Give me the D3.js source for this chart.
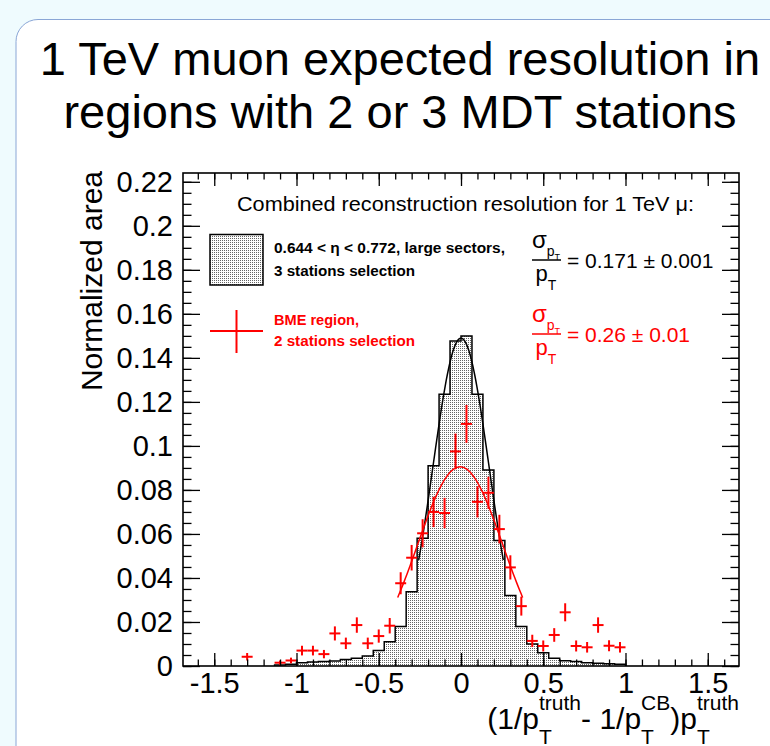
<!DOCTYPE html>
<html lang="en">
<head>
<meta charset="UTF-8">
<title>1 TeV muon expected resolution</title>
<script src="https://d3js.org/d3.v7.min.js"></script>
<style>
  body { margin: 0; background: #effbfe; }
  svg { display: block; }
  text { font-family: "Liberation Sans", Arial, Helvetica, sans-serif; }
</style>
</head>
<body>
<svg width="770" height="746"></svg>
<script>
// black histogram: 0.644 < eta < 0.772, large sectors, 3 stations (bin lower edges, bin width 1/15)
var binWidth = 0.0667;
var histLow = [-1.1333, -1.0667, -1.0, -0.9333, -0.8667, -0.8, -0.7333, -0.6667, -0.6, -0.5333,
               -0.4667, -0.4, -0.3333, -0.2667, -0.2, -0.1333, -0.0667, 0.0, 0.0667, 0.1333,
               0.2, 0.2667, 0.3333, 0.4, 0.4667, 0.5333, 0.6, 0.6667, 0.7333, 0.8, 0.8667, 0.9333];
var histValue = [0.0005, 0.0008, 0.0015, 0.0018, 0.002, 0.0023, 0.003, 0.0035, 0.0045, 0.007,
                 0.011, 0.018, 0.0337, 0.058, 0.091, 0.1235, 0.1477, 0.1499, 0.1235, 0.089,
                 0.057, 0.032, 0.018, 0.010, 0.006, 0.0035, 0.0024, 0.002, 0.0015, 0.0012, 0.001, 0.0008];

// red points: BME region, 2 stations selection
var bmeCenter = [-1.3, -1.1, -1.0333, -0.9667, -0.9, -0.8333, -0.7667, -0.7, -0.6333, -0.5667,
                 -0.5, -0.4333, -0.3667, -0.3, -0.2333, -0.1667, -0.1, -0.0333, 0.0333, 0.1,
                 0.1667, 0.2333, 0.3, 0.3667, 0.4333, 0.5, 0.5667, 0.6333, 0.7, 0.7667,
                 0.8333, 0.9, 0.9667];
var bmeValue = [0.0042, 0.0015, 0.0025, 0.007, 0.007, 0.0054, 0.0148, 0.0103, 0.0186, 0.0103,
                0.0136, 0.0183, 0.0376, 0.0492, 0.0603, 0.070, 0.0695, 0.0975, 0.110, 0.0746,
                0.0787, 0.0622, 0.0448, 0.0272, 0.0114, 0.0091, 0.0141, 0.0244, 0.0091, 0.0085,
                0.0186, 0.0092, 0.0085];
var bmeError = [0.0017, 0.001, 0.0013, 0.0022, 0.0022, 0.0019, 0.0032, 0.0026, 0.0035, 0.0026,
                0.003, 0.0035, 0.005, 0.0058, 0.0064, 0.0069, 0.0069, 0.0081, 0.0086, 0.0071,
                0.0073, 0.0065, 0.0055, 0.0043, 0.0028, 0.0025, 0.0031, 0.0041, 0.0025, 0.0024,
                0.0035, 0.0025, 0.0024];

// gaussian fits: [amplitude, mean, sigma, from, to]
var fitBlack = [0.149, 0.0, 0.171, -0.257, 0.257];
var fitRed = [0.0905, -0.005, 0.26, -0.385, 0.375];

var xTicks = [-1.5, -1, -0.5, 0, 0.5, 1, 1.5];
var xTickLabels = ["-1.5", "-1", "-0.5", "0", "0.5", "1", "1.5"];
var yTicks = [0, 0.02, 0.04, 0.06, 0.08, 0.1, 0.12, 0.14, 0.16, 0.18, 0.2, 0.22];
var yTickLabels = ["0", "0.02", "0.04", "0.06", "0.08", "0.1", "0.12", "0.14", "0.16", "0.18", "0.2", "0.22"];

var svg = d3.select("svg");
var frameL = 183, frameR = 739, frameT = 173, frameB = 666;

// slide box
svg.append("rect").attr("x", 16).attr("y", 19.5).attr("width", 820).attr("height", 820)
    .attr("rx", 22).attr("fill", "#ffffff").attr("stroke", "#8aa6d6").attr("stroke-width", 1);

svg.append("text").attr("x", 400).attr("y", 75).attr("text-anchor", "middle")
    .attr("font-size", 47).text("1 TeV muon expected resolution in");
svg.append("text").attr("x", 400).attr("y", 128).attr("text-anchor", "middle")
    .attr("font-size", 47).text("regions with 2 or 3 MDT stations");

var x = d3.scaleLinear().domain([-1.69, 1.69]).range([frameL, frameR]);
var y = d3.scaleLinear().domain([0, 0.224]).range([frameB, frameT]);

// dotted fill pattern
var pat = svg.append("defs").append("pattern").attr("id", "dots")
    .attr("width", 2).attr("height", 2).attr("patternUnits", "userSpaceOnUse");
pat.append("rect").attr("width", 2).attr("height", 2).attr("fill", "#fff");
pat.append("rect").attr("width", 1).attr("height", 1).attr("fill", "#666");

// histogram
var histPts = [[histLow[0], 0]];
histLow.forEach(function (lo, i) {
    histPts.push([lo, histValue[i]]);
    histPts.push([lo + binWidth, histValue[i]]);
});
histPts.push([histLow[histLow.length - 1] + binWidth, 0]);
var line = d3.line().x(function (d) { return x(d[0]); }).y(function (d) { return y(d[1]); });
svg.append("path").attr("d", line(histPts)).attr("fill", "url(#dots)")
    .attr("stroke", "#000").attr("stroke-width", 1.5);

function fitPoints(p) {
    return d3.range(p[3], p[4] + 0.0001, (p[4] - p[3]) / 80).map(function (v) {
        return [v, p[0] * Math.exp(-Math.pow(v - p[1], 2) / (2 * p[2] * p[2]))];
    });
}
var smooth = d3.line().curve(d3.curveBasis)
    .x(function (d) { return x(d[0]); }).y(function (d) { return y(d[1]); });
svg.append("path").attr("d", smooth(fitPoints(fitBlack))).attr("fill", "none")
    .attr("stroke", "#000").attr("stroke-width", 1.5);

// red points with error bars
var pts = svg.append("g").attr("stroke", "#ff0000").attr("stroke-width", 2);
bmeCenter.forEach(function (c, i) {
    pts.append("line").attr("x1", x(c - binWidth / 2)).attr("x2", x(c + binWidth / 2))
        .attr("y1", y(bmeValue[i])).attr("y2", y(bmeValue[i]));
    pts.append("line").attr("x1", x(c)).attr("x2", x(c))
        .attr("y1", y(bmeValue[i] - bmeError[i])).attr("y2", y(bmeValue[i] + bmeError[i]));
});
svg.append("path").attr("d", smooth(fitPoints(fitRed))).attr("fill", "none")
    .attr("stroke", "#ff0000").attr("stroke-width", 1.5);

// axes: ticks point inward on all four sides
var xMinor = d3.range(-16, 17).map(function (k) { return k / 10; });
var yMinor = d3.range(0, 45).map(function (k) { return k * 0.005; });

function styleAxis(g) {
    g.select(".domain").remove();
    g.selectAll("line").attr("stroke", "#000").attr("stroke-width", 1.3);
    return g;
}
svg.append("g").attr("transform", "translate(0," + frameB + ")")
    .call(d3.axisBottom(x).tickValues(xMinor).tickSize(-6.5).tickFormat(""))
    .call(styleAxis);
svg.append("g").attr("transform", "translate(0," + frameT + ")")
    .call(d3.axisTop(x).tickValues(xMinor).tickSize(-6.5).tickFormat(""))
    .call(styleAxis);
svg.append("g").attr("transform", "translate(0," + frameT + ")")
    .call(d3.axisTop(x).tickValues(xTicks).tickSize(-13).tickFormat(""))
    .call(styleAxis);
var xAxis = svg.append("g").attr("transform", "translate(0," + frameB + ")")
    .call(d3.axisBottom(x).tickValues(xTicks).tickSizeInner(-13).tickSizeOuter(0).tickPadding(6)
        .tickFormat(function (d, i) { return xTickLabels[i]; }))
    .call(styleAxis);
xAxis.selectAll("text").attr("font-size", 29).attr("fill", "#000")
    .style("font-family", "'Liberation Sans', Arial, sans-serif");

svg.append("g").attr("transform", "translate(" + frameL + ",0)")
    .call(d3.axisLeft(y).tickValues(yMinor).tickSize(-8.5).tickFormat(""))
    .call(styleAxis);
svg.append("g").attr("transform", "translate(" + frameR + ",0)")
    .call(d3.axisRight(y).tickValues(yMinor).tickSize(-8.5).tickFormat(""))
    .call(styleAxis);
svg.append("g").attr("transform", "translate(" + frameR + ",0)")
    .call(d3.axisRight(y).tickValues(yTicks).tickSize(-17).tickFormat(""))
    .call(styleAxis);
var yAxis = svg.append("g").attr("transform", "translate(" + frameL + ",0)")
    .call(d3.axisLeft(y).tickValues(yTicks).tickSizeInner(-17).tickSizeOuter(0).tickPadding(10)
        .tickFormat(function (d, i) { return yTickLabels[i]; }))
    .call(styleAxis);
yAxis.selectAll("text").attr("font-size", 29).attr("fill", "#000")
    .style("font-family", "'Liberation Sans', Arial, sans-serif");

svg.append("rect").attr("x", frameL).attr("y", frameT).attr("width", frameR - frameL)
    .attr("height", frameB - frameT).attr("fill", "none").attr("stroke", "#000").attr("stroke-width", 1.6);

// axis titles
svg.append("text").attr("transform", "translate(102," + (frameT - 2) + ") rotate(-90)")
    .attr("text-anchor", "end").attr("font-size", 30).text("Normalized area");

function richText(parent, pieces, px, py, anchor, color) {
    var g = parent.append("g").attr("fill", color || "#000");
    var cx = 0;
    pieces.forEach(function (p) {
        var group = Array.isArray(p) ? p : [p];
        var w = 0;
        group.forEach(function (q) {
            var t = g.append("text").attr("x", cx).attr("y", q.dy || 0)
                .attr("font-size", q.size).text(q.text);
            w = Math.max(w, t.node().getComputedTextLength());
        });
        cx += w;
    });
    var shift = anchor === "end" ? -cx : anchor === "middle" ? -cx / 2 : 0;
    g.attr("transform", "translate(" + (px + shift) + "," + py + ")");
    return g;
}
var sup = function (t) { return {text: t, size: 21, dy: -19}; };
var sub = function (t) { return {text: t, size: 21, dy: 15}; };
richText(svg, [
    {text: "(1/p", size: 30}, [sup("truth"), sub("T")],
    {text: " - 1/p", size: 30}, [sup("CB"), sub("T")],
    {text: ")p", size: 30}, [sup("truth"), sub("T")]
], frameR, 729, "end");

// legend
svg.append("text").attr("x", 237).attr("y", 211).attr("font-size", 21)
    .attr("textLength", 457).attr("lengthAdjust", "spacingAndGlyphs")
    .text("Combined reconstruction resolution for 1 TeV \u03bc:");

svg.append("rect").attr("x", 210).attr("y", 234.5).attr("width", 53).attr("height", 50.5)
    .attr("fill", "url(#dots)").attr("stroke", "#000").attr("stroke-width", 1.5);
svg.append("line").attr("x1", 210).attr("x2", 263).attr("y1", 331).attr("y2", 331)
    .attr("stroke", "#ff0000").attr("stroke-width", 2);
svg.append("line").attr("x1", 236.5).attr("x2", 236.5).attr("y1", 310).attr("y2", 353)
    .attr("stroke", "#ff0000").attr("stroke-width", 2);

var legendLines = [
    ["0.644 < \u03b7 < 0.772, large sectors,", 253, 231, "#000"],
    ["3 stations selection", 276, 141, "#000"],
    ["BME region,", 325, 85, "#ff0000"],
    ["2 stations selection", 346, 141, "#ff0000"]
];
legendLines.forEach(function (l) {
    svg.append("text").attr("x", 274).attr("y", l[1]).attr("font-size", 14)
        .attr("font-weight", "bold").attr("fill", l[3])
        .attr("textLength", l[2]).attr("lengthAdjust", "spacingAndGlyphs").text(l[0]);
});

function sigmaOverPt(yBar, color, valueText) {
    richText(svg, [{text: "\u03c3", size: 24}, {text: "p", size: 14, dy: 8}, {text: "T", size: 9, dy: 12}],
        546, yBar - 12, "middle", color);
    svg.append("line").attr("x1", 532).attr("x2", 561).attr("y1", yBar).attr("y2", yBar)
        .attr("stroke", color).attr("stroke-width", 1.5);
    richText(svg, [{text: "p", size: 22}, {text: "T", size: 14, dy: 9}], 546, yBar + 21, "middle", color);
    svg.append("text").attr("x", 567).attr("y", yBar + 8).attr("font-size", 21)
        .attr("fill", color).text(valueText);
}
sigmaOverPt(260, "#000", "= 0.171 \u00b1 0.001");
sigmaOverPt(334, "#ff0000", "= 0.26 \u00b1 0.01");
</script>
</body>
</html>
